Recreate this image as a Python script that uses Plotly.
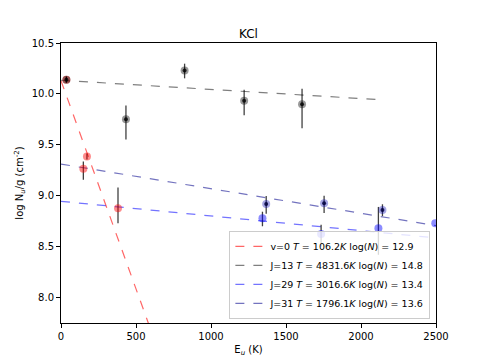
import plotly.graph_objects as go

# --- data ---
# v=0 points
v0_E = [36, 149, 173, 380]
v0_logN = [10.14, 9.265, 9.385, 8.876]
v0_err_up = [0.03, 0.071, 0.03, 0.206]
v0_err_dn = [0.03, 0.108, 0.03, 0.147]

# J=13 points
j13_E = [36, 433, 824, 1221, 1607]
j13_logN = [10.14, 9.75, 10.231, 9.934, 9.898]
j13_err_up = [0.03, 0.135, 0.066, 0.106, 0.152]
j13_err_dn = [0.03, 0.197, 0.078, 0.144, 0.235]

# J=29 points
j29_E = [1343, 1734, 2116, 2495]
j29_logN = [8.78, 8.624, 8.68, 8.73]
j29_err_up = [0.063, 0.092, 0.21, 0.0]
j29_err_dn = [0.08, 0.124, 0.26, 0.0]

# J=31 points
j31_E = [1368, 1754, 2143]
j31_logN = [8.919, 8.925, 8.86]
j31_err_up = [0.078, 0.075, 0.056]
j31_err_dn = [0.095, 0.095, 0.06]

# fitted rotation-diagram lines: label, T, intercept, E range, colour
fit_labels = ["v=0", "J=13", "J=29", "J=31"]
fit_T = [106.2, 4831.6, 3016.6, 1796.1]
fit_logNtot = [12.9, 14.8, 13.4, 13.6]
fit_intercept = [10.13, 10.134, 8.945, 9.311]
fit_Emax = [2100, 2100, 2600, 2600]
fit_colors = ["rgba(255,0,0,0.6)", "rgba(0,0,0,0.5)",
              "rgba(0,0,255,0.55)", "rgba(0,0,139,0.55)"]

LOG10E = 0.4342944819

fig = go.Figure()

for lab, T, lnt, b, emax, col in zip(fit_labels, fit_T, fit_logNtot,
                                     fit_intercept, fit_Emax, fit_colors):
    name = (f"{lab} <i>T</i> = {T:.1f}<i>K</i> log(<i>N</i>) = {lnt:.1f}")
    fig.add_trace(go.Scatter(
        x=[0, emax], y=[b, b - LOG10E / T * emax], mode="lines",
        line=dict(color=col, width=1.2, dash="dash"), name=name,
    ))


def points(E, y, up, dn, col, centre):
    fig.add_trace(go.Scatter(
        x=E, y=y, mode="markers", showlegend=False,
        marker=dict(size=8, color=col, line=dict(width=0)),
        error_y=dict(type="data", symmetric=False, array=up, arrayminus=dn,
                     color="rgba(0,0,0,0.75)", thickness=1.3, width=0),
    ))
    if centre:
        fig.add_trace(go.Scatter(
            x=E, y=y, mode="markers", showlegend=False,
            marker=dict(size=4, color=centre, line=dict(width=0)),
        ))


points(v0_E, v0_logN, v0_err_up, v0_err_dn, "rgba(255,0,0,0.45)", None)
points(j13_E, j13_logN, j13_err_up, j13_err_dn, "rgba(0,0,0,0.4)", "rgba(0,0,0,0.8)")
points(j29_E, j29_logN, j29_err_up, j29_err_dn, "rgba(0,0,255,0.45)", None)
points(j31_E, j31_logN, j31_err_up, j31_err_dn, "rgba(0,0,180,0.35)", "rgba(0,0,60,0.85)")

axis_common = dict(showgrid=False, zeroline=False, showline=True, mirror=True,
                   linecolor="black", linewidth=1, ticks="outside", ticklen=4,
                   tickcolor="black", tickfont=dict(size=10, color="black"),
                   automargin=False)

# page body has an 8px margin, so the figure is 8px smaller and margins shifted
fig.update_layout(
    width=476, height=355,
    margin=dict(l=53, r=48, t=35, b=40),
    paper_bgcolor="white", plot_bgcolor="white",
    font=dict(family="DejaVu Sans", size=10, color="black"),
    title=dict(text="KCl", x=0.5, xanchor="center", xref="paper",
               y=1, yref="paper", yanchor="bottom", pad=dict(b=5),
               automargin=False, font=dict(size=12)),
    xaxis=dict(range=[0, 2500], tickvals=[0, 500, 1000, 1500, 2000, 2500],
               title=dict(text="E<sub><i>u</i></sub> (K)", standoff=4,
                          font=dict(size=10)),
               **axis_common),
    yaxis=dict(range=[7.75, 10.5], tickvals=[8.0, 8.5, 9.0, 9.5, 10.0, 10.5],
               tickformat=".1f",
               title=dict(text="log N<sub><i>u</i></sub>/g (cm<sup>-2</sup>)",
                          standoff=6, font=dict(size=10)),
               **axis_common),
    legend=dict(x=0.985, y=0.015, xanchor="right", yanchor="bottom",
                bgcolor="rgba(255,255,255,0.8)", bordercolor="#cccccc",
                borderwidth=1, font=dict(size=9.5), tracegroupgap=0,
                itemwidth=30),
)

fig.write_html("out.html")
